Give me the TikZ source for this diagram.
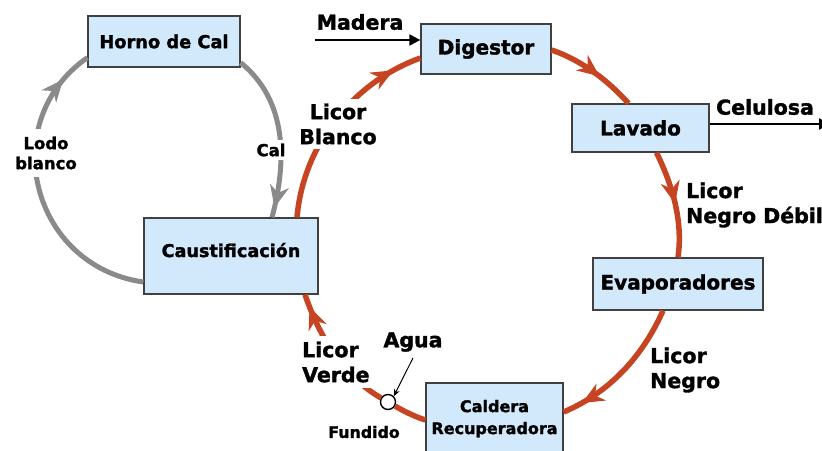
\documentclass[tikz,border=0pt]{standalone}
\usepackage{fontspec}
\setmainfont{DejaVu Sans}[BoldFeatures={FakeBold=1.6}]
\usetikzlibrary{arrows.meta,decorations.markings}
\definecolor{boxblue}{RGB}{210,233,252}
\definecolor{flowred}{RGB}{198,68,34}
\definecolor{flowgray}{RGB}{138,138,138}
\tikzset{
  proc/.style={draw=black!75, line width=1.3pt, fill=boxblue, inner sep=0pt,
    font=\bfseries\fontsize{20}{24}\selectfont, align=center},
  lbl/.style={fill=white, inner sep=2pt, font=\bfseries\fontsize{20.5}{25}\selectfont},
  smalllbl/.style={fill=white, inner sep=2pt, font=\bfseries\fontsize{16.5}{20}\selectfont, align=center},
  redflow/.style={draw=flowred, line width=5.5pt},
  grayflow/.style={draw=flowgray, line width=5pt},
  midarrow/.style={postaction={decorate}, decoration={markings,
    mark=at position #1 with {\arrow{Stealth[length=22pt,width=19pt,inset=7pt]}}}},
  feed/.style={draw=black, line width=2.2pt, -{Triangle[length=11pt,width=11pt]}}
}
\begin{document}
\begin{tikzpicture}[x=1pt,y=1pt]
  \useasboundingbox (0,0) rectangle (822,450);
  \clip (0,0) rectangle (822,450);

  % equipos
  \node (horno) [proc, minimum width=152pt, minimum height=51pt,
    font=\bfseries\fontsize{17.8}{22}\selectfont] at (164,408.5) {Horno de Cal};
  \node (dig) [proc, minimum width=130pt, minimum height=50pt] at (486,401) {Digestor};
  \node (lav) [proc, minimum width=137pt, minimum height=48pt] at (640.5,322) {Lavado};
  \node (caus) [proc, minimum width=174pt, minimum height=76pt, text depth=12pt,
    font=\bfseries\fontsize{17.6}{22}\selectfont] at (231,194) {Caustificación};
  \node (evap) [proc, minimum width=170pt, minimum height=52pt] at (678,166) {Evaporadores};
  \node (cald) [proc, minimum width=137pt, minimum height=78pt, text depth=10pt,
    font=\bfseries\fontsize{16}{22}\selectfont] at (494.5,28) {Caldera\\Recuperadora};
  \node (fund) [circle, draw, line width=1.4pt, fill=white, minimum size=15pt, inner sep=0pt] at (388,48) {};

  \coordinate (madera) at (315,410);
  \coordinate (celulosa) at (830,326);

  % ciclo del licor
  \draw[redflow, midarrow=0.58] ([yshift=-1pt]dig.east) to[out=-19, in=132, looseness=0.86] ([xshift=-12pt]lav.north);
  \draw[redflow, midarrow=0.5] ([xshift=16pt]lav.south) to[out=-64, in=82, looseness=0.88] (evap.north);
  \draw[redflow, midarrow=0.86] ([xshift=-15pt]evap.south) to[out=-114, in=23, looseness=0.9] ([yshift=10pt]cald.east);
  \draw[redflow] ([yshift=2pt]cald.west) to[out=162, in=-30, looseness=0.86] (fund);
  \draw[redflow, midarrow=0.9] (fund) to[out=150, in=-71, looseness=0.88] ([xshift=74pt]caus.south);
  \draw[redflow, midarrow=0.86] ([xshift=66pt]caus.north) to[out=85, in=200, looseness=0.92] ([yshift=-9pt]dig.west);

  % ciclo de la cal
  \draw[grayflow, midarrow=0.94] ([yshift=5pt]horno.south east) to[out=-39, in=75, looseness=0.96] ([xshift=41pt]caus.north);
  \draw[grayflow, midarrow=0.89] ([yshift=-26pt]caus.west) to[out=172, in=215, looseness=1.25] ([yshift=10pt]horno.south west);

  % entradas y salidas
  \draw[feed] (madera) -- ([yshift=9pt]dig.west);
  \draw[feed] ([yshift=4pt]lav.east) -- (celulosa);

  % etiquetas
  \node (lmad) [lbl] at (360,428) {Madera};
  \node (lcel) [lbl] at (765,343) {Celulosa};
  \node (lbla) [lbl, align=center, inner sep=5pt] at (338,326) {Licor\\Blanco};
  \node (ldeb) [lbl, align=left, anchor=west, inner sep=0pt] at (686,245) {Licor\\Negro Débil};
  \node (lneg) [lbl, align=left, anchor=west, inner sep=0pt] at (650,80) {Licor\\Negro};
  \node (lver) [lbl, align=left, anchor=west, inner sep=6pt] at (296,88) {Licor\\Verde};
  \node (lagua) [lbl, inner sep=0pt] at (413,108) {Agua};
  \node (lfund) [smalllbl, font=\bfseries\fontsize{15.8}{18}\selectfont] at (364,18) {Fundido};
  \node (llodo) [smalllbl, inner sep=8pt] at (46,297) {Lodo\\blanco};
  \node (lcal) [smalllbl, inner sep=4pt] at (271,300) {Cal};

  \draw[black, line width=1pt, -{Stealth[length=7pt,width=6pt]}] ([yshift=-6pt]lagua.south) -- (fund.north east);
\end{tikzpicture}
\end{document}
